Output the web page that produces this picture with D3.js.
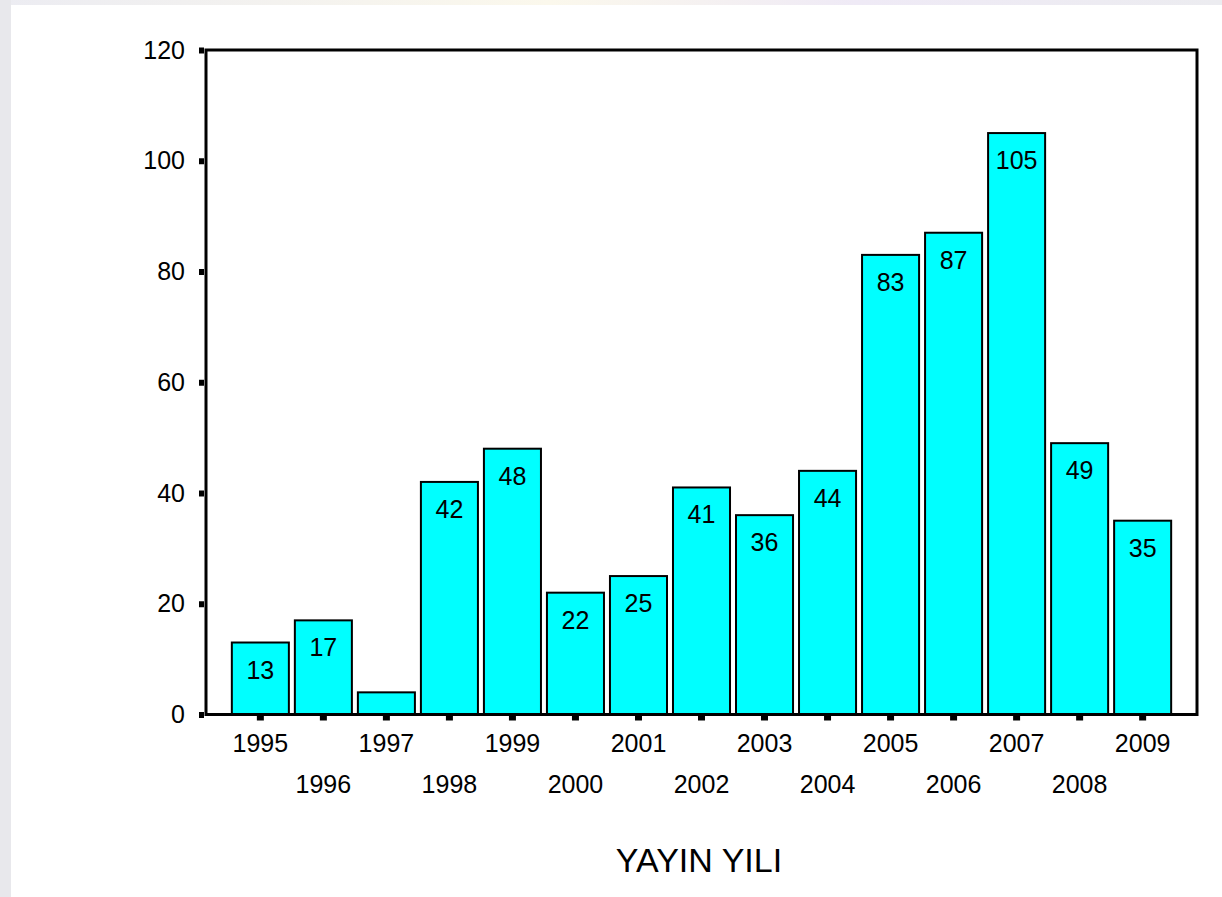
<html>
<head>
  <style type="text/css">
    body { margin: 0; background: #fff; }
    svg text { font-family: "Liberation Sans", Arial, sans-serif; fill: #000; }
  </style>
</head>
<body>
  <div id="viz"></div>
  <script src="https://cdnjs.cloudflare.com/ajax/libs/d3/7.8.5/d3.min.js"></script>
  <script>
  // publication counts per year
  const years = ['1995', '1996', '1997', '1998', '1999', '2000', '2001', '2002',
                 '2003', '2004', '2005', '2006', '2007', '2008', '2009'];
  const counts = [13, 17, 4, 42, 48, 22, 25, 41, 36, 44, 83, 87, 105, 49, 35];
  const yTicks = [0, 20, 40, 60, 80, 100, 120];
  const xTitle = 'YAYIN YILI';

  const W = 1222, H = 897;
  const plotLeft = 206, plotRight = 1197, plotTop = 50, plotBottom = 714.5;

  const svg = d3.select('#viz').append('svg')
    .attr('width', W)
    .attr('height', H);

  // faint slide-like border on the edges
  const grad = svg.append('defs').append('linearGradient')
    .attr('id', 'topg').attr('x1', 0).attr('x2', 1);
  grad.append('stop').attr('offset', '0%').attr('stop-color', '#ececf2');
  grad.append('stop').attr('offset', '45%').attr('stop-color', '#fbf8ec');
  grad.append('stop').attr('offset', '70%').attr('stop-color', '#efeaf6');
  grad.append('stop').attr('offset', '100%').attr('stop-color', '#ececf0');
  svg.append('rect').attr('x', 0).attr('y', 0).attr('width', W).attr('height', 5)
    .attr('fill', 'url(#topg)');
  svg.append('rect').attr('x', 0).attr('y', 0).attr('width', 11).attr('height', H)
    .attr('fill', '#e8e8ec');

  const x = d3.scaleBand()
    .domain(years)
    .range([plotLeft, plotRight])
    .paddingInner(0.095)
    .paddingOuter(0.41);

  const y = d3.scaleLinear()
    .domain([0, 120])
    .range([plotBottom, plotTop]);

  // bars
  svg.append('g').selectAll('rect')
    .data(counts)
    .enter().append('rect')
      .attr('x', (d, i) => x(years[i]))
      .attr('width', x.bandwidth())
      .attr('y', d => y(d))
      .attr('height', d => plotBottom - y(d))
      .attr('fill', '#00ffff')
      .attr('stroke', '#000')
      .attr('stroke-width', 2);

  // value labels (too short bars get none)
  svg.append('g').selectAll('text')
    .data(counts.map((d, i) => ({ year: years[i], n: d })))
    .enter().append('text')
      .filter(d => plotBottom - y(d.n) > 40)
      .attr('x', d => x(d.year) + x.bandwidth() / 2)
      .attr('y', d => y(d.n) + 36)
      .attr('text-anchor', 'middle')
      .style('font-size', '25px')
      .text(d => d.n);

  // frame
  svg.append('rect')
    .attr('x', plotLeft).attr('y', plotTop)
    .attr('width', plotRight - plotLeft).attr('height', plotBottom - plotTop)
    .attr('fill', 'none')
    .attr('stroke', '#000')
    .attr('stroke-width', 3);

  // y axis
  const yAxis = svg.append('g')
    .attr('transform', 'translate(' + (plotLeft - 2) + ',0)')
    .call(d3.axisLeft(y).tickValues(yTicks).tickSize(5).tickPadding(14));
  yAxis.select('.domain').remove();
  yAxis.selectAll('.tick line').attr('stroke', '#000').attr('stroke-width', 6);
  yAxis.selectAll('.tick text')
    .style('font-size', '25px')
    .attr('font-family', null);

  // x axis, staggered labels
  const xAxis = svg.append('g')
    .attr('transform', 'translate(0,' + (plotBottom + 1) + ')')
    .call(d3.axisBottom(x).tickSize(5).tickPadding(0));
  xAxis.select('.domain').remove();
  xAxis.selectAll('.tick line').attr('stroke', '#000').attr('stroke-width', 7);
  xAxis.selectAll('.tick text')
    .style('font-size', '25px')
    .attr('font-family', null)
    .attr('dy', null)
    .attr('y', (d, i) => i % 2 === 0 ? 36 : 77);

  svg.append('text')
    .attr('x', 699)
    .attr('y', 872)
    .attr('text-anchor', 'middle')
    .style('font-size', '34px')
    .text(xTitle);
  </script>
</body>
</html>
